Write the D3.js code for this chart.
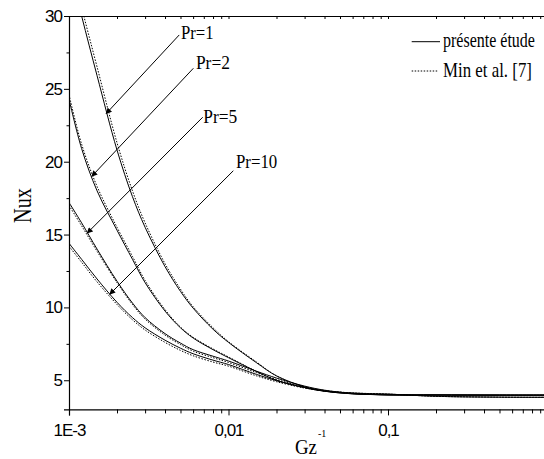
<!DOCTYPE html>
<html>
<head>
<meta charset="utf-8">
<script src="https://cdn.jsdelivr.net/npm/d3@7"></script>
<style>
  html, body { margin: 0; padding: 0; background: #fff; }
  svg { display: block; }
  .tick text { font-family: "Liberation Sans", Arial, sans-serif; }
</style>
</head>
<body>
<svg id="chart" width="544" height="459"></svg>
<script>
// Gz^-1 sample positions
const gz = [0.001, 0.0012, 0.0015, 0.002, 0.0025, 0.003, 0.004, 0.005, 0.006, 0.008,
            0.01, 0.015, 0.02, 0.03, 0.04, 0.06, 0.1, 0.2, 0.5, 1];

// présente étude (solid)
const nuPr1  = [33.5, 30.0, 25.9, 20.8, 17.6, 15.5, 12.8, 11.1, 9.95, 8.5, 7.6, 6.2, 5.3, 4.55, 4.25, 4.07, 4.0, 3.99, 3.98, 3.98];
const nuPr2  = [24.3, 20.9, 18.0, 15.3, 13.3, 11.7, 9.75, 8.6, 7.9, 7.1, 6.55, 5.6, 5.0, 4.5, 4.25, 4.07, 4.0, 3.99, 3.98, 3.98];
const nuPr5  = [17.2, 15.8, 14.0, 11.8, 10.3, 9.3, 8.2, 7.55, 7.1, 6.65, 6.32, 5.62, 5.15, 4.6, 4.32, 4.1, 4.0, 3.99, 3.98, 3.98];
const nuPr10 = [14.4, 13.3, 11.95, 10.35, 9.3, 8.6, 7.75, 7.2, 6.82, 6.38, 6.08, 5.4, 4.97, 4.5, 4.27, 4.08, 4.0, 3.99, 3.98, 3.98];

// Min et al. [7] (dotted)
const minPr1  = [34.2, 30.6, 26.5, 21.3, 18.0, 15.8, 13.0, 11.25, 10.05, 8.6, 7.65, 6.25, 5.3, 4.55, 4.27, 4.12, 4.05, 3.9, 3.84, 3.83];
const minPr2  = [24.6, 21.2, 18.3, 15.5, 13.5, 11.85, 9.85, 8.65, 7.95, 7.15, 6.6, 5.6, 5.0, 4.5, 4.27, 4.12, 4.05, 3.9, 3.84, 3.83];
const minPr5  = [17.0, 15.6, 13.85, 11.7, 10.2, 9.2, 8.1, 7.45, 7.0, 6.55, 6.22, 5.52, 5.05, 4.55, 4.3, 4.13, 4.05, 3.9, 3.84, 3.83];
const minPr10 = [14.2, 13.1, 11.75, 10.2, 9.15, 8.45, 7.6, 7.05, 6.68, 6.25, 5.97, 5.3, 4.9, 4.46, 4.26, 4.13, 4.05, 3.9, 3.84, 3.83];

// annotations: label, label anchor [gz, Nu], arrow tail [gz, Nu], arrow tip [gz, Nu]
const prLabels = ["Pr=1", "Pr=2", "Pr=5", "Pr=10"];
const prText   = [[0.00504, 28.42], [0.00625, 26.34], [0.00695, 22.64], [0.01114, 19.55]];
const prTail   = [[0.00491, 28.7],  [0.00602, 26.41], [0.00689, 23.05], [0.01072, 19.38]];
const prTip    = [[0.00171, 23.3],  [0.00139, 19.0],  [0.00130, 15.1],  [0.00180, 10.9]];

const yMajor = [5, 10, 15, 20, 25, 30];
const yMinor = [7.5, 12.5, 17.5, 22.5, 27.5];
const xMajor = [0.001, 0.01, 0.1];
const xMajorLabels = ["1E-3", "0,01", "0,1"];

const legendNames = ["présente étude", "Min et al. [7]"];

// ─── setup ──────────────────────────────────
const svg = d3.select("#chart");
const L = 69, R = 547.5, T = 16, B = 409.4;
const serif = "'Liberation Serif', 'Times New Roman', serif";

const x = d3.scaleLog().domain([0.001, 1]).range([L, R]);
const y = d3.scaleLinear().domain([3, 30]).range([B, T]);

const defs = svg.append("defs");
defs.append("clipPath").attr("id", "plotclip")
  .append("rect").attr("x", L).attr("y", T).attr("width", R - L).attr("height", B - T);

defs.append("marker")
  .attr("id", "arrow").attr("viewBox", "0 0 10 10")
  .attr("refX", 9).attr("refY", 5)
  .attr("markerWidth", 7).attr("markerHeight", 6)
  .attr("markerUnits", "userSpaceOnUse")
  .attr("orient", "auto")
  .append("path").attr("d", "M0,0 L10,5 L0,10 z").attr("fill", "#000");

const xMinor = [];
[0.001, 0.01, 0.1].forEach(d => { for (let k = 2; k <= 9; k++) xMinor.push(d * k); });

// squeeze a text horizontally to a given width (the original uses narrow type)
function squeeze(sel, tx, ty, w, rot) {
  const n = sel.node().getComputedTextLength();
  sel.attr("transform", `translate(${tx},${ty})${rot ? " rotate(" + rot + ")" : ""} scale(${w / n},1)`);
}

// ─── axes ───────────────────────────────────
const fmtX = d => xMajorLabels[xMajor.findIndex(v => Math.abs(v - d) < d * 1e-6)];

const gxB = svg.append("g").attr("transform", `translate(0,${B})`)
  .call(d3.axisBottom(x).tickValues(xMajor).tickFormat(fmtX).tickSize(6).tickPadding(9));
svg.append("g").attr("transform", `translate(0,${B})`)
  .call(d3.axisBottom(x).tickValues(xMinor).tickFormat("").tickSize(4))
  .call(g => g.select(".domain").remove());

// top: inward ticks
svg.append("g").attr("transform", `translate(0,${T})`)
  .call(d3.axisBottom(x).tickValues(xMajor.concat(xMinor)).tickFormat("").tickSize(3))
  .call(g => g.select(".domain").attr("d", `M${L},0.5H544`));

const gyL = svg.append("g").attr("transform", `translate(${L},0)`)
  .call(d3.axisLeft(y).tickValues(yMajor).tickSize(5).tickPadding(2));
svg.append("g").attr("transform", `translate(${L},0)`)
  .call(d3.axisLeft(y).tickValues(yMinor).tickFormat("").tickSize(2.5))
  .call(g => g.select(".domain").remove());

svg.selectAll(".domain").attr("stroke", "#000").attr("stroke-width", 1.2);
svg.selectAll(".tick line").attr("stroke", "#000");

gxB.selectAll(".tick text")
  .attr("font-size", 17).attr("letter-spacing", -1).attr("fill", "#000");
gyL.selectAll(".tick text")
  .attr("font-size", 17).attr("letter-spacing", -1).attr("fill", "#000");

// axis titles
const nux = svg.append("text")
  .attr("text-anchor", "middle")
  .attr("font-family", serif).attr("font-size", 26)
  .text("Nux");
squeeze(nux, 31, 205.5, 35, -90);

const gzT = svg.append("text")
  .attr("font-family", serif).attr("font-size", 22)
  .text("Gz");
squeeze(gzT, 295, 453.5, 22);
svg.append("text")
  .attr("x", 318).attr("y", 437)
  .attr("font-family", serif).attr("font-size", 10)
  .text("-1");

// ─── curves ─────────────────────────────────
const line = d3.line()
  .x(d => x(d[0])).y(d => y(d[1]))
  .curve(d3.curveCatmullRom.alpha(0.5));

const plot = svg.append("g").attr("clip-path", "url(#plotclip)");

const solids = [nuPr1, nuPr2, nuPr5, nuPr10];
const dotted = [minPr1, minPr2, minPr5, minPr10];

plot.selectAll("path.min")
  .data(dotted).enter().append("path")
  .attr("class", "min")
  .attr("fill", "none").attr("stroke", "#000").attr("stroke-width", 1)
  .attr("stroke-dasharray", "1.5,1.5")
  .attr("d", s => line(gz.map((g, i) => [g, s[i]])));

plot.selectAll("path.nu")
  .data(solids).enter().append("path")
  .attr("class", "nu")
  .attr("fill", "none").attr("stroke", "#000").attr("stroke-width", 1)
  .attr("d", s => line(gz.map((g, i) => [g, s[i]])));

// ─── Pr annotations ─────────────────────────
const prWidth = [32.6, 34, 34, 41.3];
prLabels.forEach((lab, i) => {
  svg.append("line")
    .attr("x1", x(prTail[i][0])).attr("y1", y(prTail[i][1]))
    .attr("x2", x(prTip[i][0])).attr("y2", y(prTip[i][1]))
    .attr("stroke", "#000").attr("stroke-width", 1)
    .attr("marker-end", "url(#arrow)");
  const t = svg.append("text")
    .attr("font-family", serif).attr("font-size", 19)
    .text(lab);
  squeeze(t, x(prText[i][0]), y(prText[i][1]), prWidth[i]);
});

// ─── legend ─────────────────────────────────
const legY = [41.7, 71];
const legW = [92, 89];
const leg = svg.append("g");
legendNames.forEach((name, i) => {
  leg.append("line")
    .attr("x1", 411.7).attr("x2", i === 0 ? 440 : 438.3)
    .attr("y1", legY[i]).attr("y2", legY[i])
    .attr("stroke", "#000").attr("stroke-width", 1)
    .attr("stroke-dasharray", i === 0 ? null : "1.5,1.5");
  const t = leg.append("text")
    .attr("font-family", serif).attr("font-size", 21)
    .text(name);
  squeeze(t, 443, legY[i] + 5.5, legW[i]);
});
</script>
</body>
</html>
